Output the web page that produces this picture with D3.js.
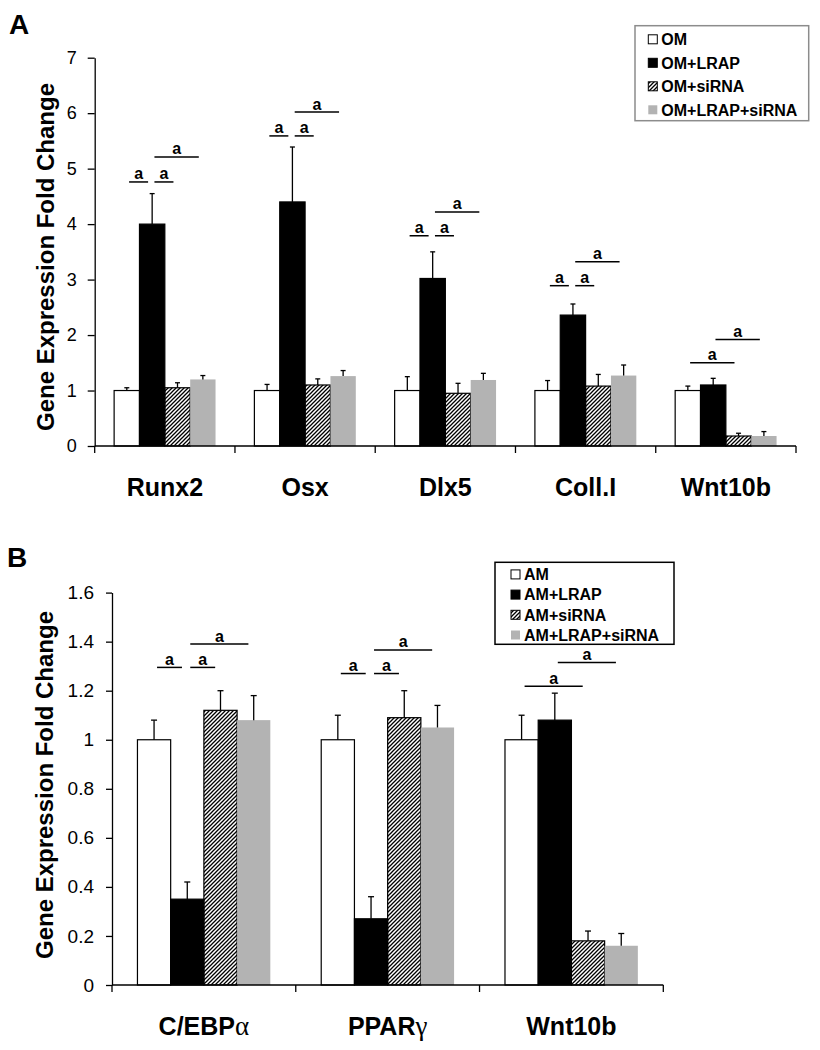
<!DOCTYPE html>
<html><head><meta charset="utf-8">
<script src="https://cdn.jsdelivr.net/npm/d3@7"></script>
<style>
html,body{margin:0;padding:0;background:#fff;}
text{font-family:"Liberation Sans",Arial,sans-serif;}
</style></head>
<body><svg id="c" width="820" height="1050"></svg>
<script>
// ---------- Panel A data ----------
const categoriesA = ["Runx2","Osx","Dlx5","Coll.I","Wnt10b"];
const seriesA = ["OM","OM+LRAP","OM+siRNA","OM+LRAP+siRNA"];
const omA        = [1.00,1.00,1.00,1.00,1.00];
const omLrapA    = [4.00,4.40,3.02,2.36,1.10];
const omSiA      = [1.05,1.10,0.95,1.08,0.18];
const omLrapSiA  = [1.20,1.26,1.19,1.27,0.18];
const omErrA       = [0.05,0.11,0.25,0.18,0.08];
const omLrapErrA   = [0.55,0.99,0.48,0.20,0.12];
const omSiErrA     = [0.09,0.11,0.18,0.21,0.05];
const omLrapSiErrA = [0.07,0.10,0.12,0.19,0.08];
const yTicksA = [0,1,2,3,4,5,6,7];
// [category, fromBar, toBar, level, label]
const bracketsA = [
  [0,0,1,4.76,"a"],[0,1,2,4.76,"a"],[0,1,3,5.21,"a"],
  [1,0,1,5.59,"a"],[1,1,2,5.59,"a"],[1,1,3,6.02,"a"],
  [2,0,1,3.79,"a"],[2,1,2,3.79,"a"],[2,1,3,4.22,"a"],
  [3,0,1,2.89,"a"],[3,1,2,2.89,"a"],[3,1,3,3.32,"a"],
  [4,0,2,1.50,"a"],[4,1,3,1.92,"a"]
];

// ---------- Panel B data ----------
const categoriesB = ["C/EBPα","PPARγ","Wnt10b"];
const seriesB = ["AM","AM+LRAP","AM+siRNA","AM+LRAP+siRNA"];
const amB        = [1.00,1.00,1.00];
const amLrapB    = [0.35,0.27,1.08];
const amSiB      = [1.12,1.09,0.18];
const amLrapSiB  = [1.08,1.05,0.16];
const amErrB       = [0.08,0.10,0.10];
const amLrapErrB   = [0.07,0.09,0.11];
const amSiErrB     = [0.08,0.11,0.04];
const amLrapSiErrB = [0.10,0.09,0.05];
const yTicksB = [0,0.2,0.4,0.6,0.8,1,1.2,1.4,1.6];
const bracketsB = [
  [0,0,1,1.295,"a"],[0,1,2,1.295,"a"],[0,1,3,1.39,"a"],
  [1,0,1,1.27,"a"],[1,1,2,1.27,"a"],[1,1,3,1.366,"a"],
  [2,0,2,1.218,"a"],[2,1,3,1.315,"a"]
];

const svg = d3.select("#c");
const defs = svg.append("defs");
defs.append("pattern").attr("id","hatch").attr("patternUnits","userSpaceOnUse")
  .attr("width",4).attr("height",4)
  .append("path").attr("d","M-1,1 l2,-2 M0,4 l4,-4 M3,5 l2,-2")
  .attr("stroke","#000").attr("stroke-width",1.3);

const fills = ["#fff","#000","url(#hatch)","#b3b3b3"];
const strokes = ["#000","#000","#000","none"];

function panel(o){
  const g = svg.append("g");
  const x = d3.scaleBand().domain(o.cats).range([o.x0,o.x1]);
  const bw = x.bandwidth();
  const gw = bw*0.723, pad=(bw-gw)/2;
  const xs = d3.scaleBand().domain(d3.range(4)).range([pad,pad+gw]);
  const y = d3.scaleLinear().domain([0,o.ymax]).range([o.y0,o.y1]);
  const barW = xs.bandwidth();
  const cx = (ci,si)=> x(o.cats[ci]) + xs(si) + barW/2;

  // y axis
  const ya = g.append("g").attr("transform",`translate(${o.x0},0)`)
    .call(d3.axisLeft(y).tickValues(o.ticks).tickFormat(d3.format("~g"))
      .tickSize(o.tickLen).tickSizeOuter(0).tickPadding(o.tickPad));
  ya.select(".domain").attr("stroke","#000").attr("stroke-width",1.3);
  ya.selectAll(".tick line").attr("stroke","#000").attr("stroke-width",1.3);
  ya.selectAll(".tick text").attr("font-family","Liberation Sans, Arial, sans-serif")
    .attr("font-size",o.tickFont).attr("fill","#000");

  // bars
  o.vals.forEach((arr,si)=>{
    g.append("g").selectAll("rect").data(arr).join("rect")
      .attr("x",(d,i)=>x(o.cats[i])+xs(si))
      .attr("y",d=>y(d)).attr("width",barW).attr("height",d=>y(0)-y(d))
      .attr("fill",fills[si]).attr("stroke",strokes[si]).attr("stroke-width",1.2);
  });
  // error bars
  o.vals.forEach((arr,si)=>{
    const eg = g.append("g").attr("stroke","#000").attr("stroke-width",1.3);
    arr.forEach((v,i)=>{
      const e = o.errs[si][i];
      const c = cx(i,si);
      eg.append("line").attr("x1",c).attr("x2",c).attr("y1",y(v)).attr("y2",y(v+e));
      eg.append("line").attr("x1",c-o.cap/2).attr("x2",c+o.cap/2).attr("y1",y(v+e)).attr("y2",y(v+e));
    });
  });

  // x axis
  g.append("line").attr("x1",o.x0).attr("x2",o.x1).attr("y1",y(0)).attr("y2",y(0))
    .attr("stroke","#000").attr("stroke-width",1.3);
  const bounds = o.cats.map(c=>x(c)).concat([o.x1]);
  g.selectAll(".xt").data(bounds).join("line")
    .attr("x1",d=>d).attr("x2",d=>d).attr("y1",y(0)).attr("y2",y(0)+7)
    .attr("stroke","#000").attr("stroke-width",1.3);
  // category labels
  o.cats.forEach(c=>{
    const t = g.append("text").attr("x",x(c)+bw/2).attr("y",y(0)+50)
      .attr("text-anchor","middle").attr("font-size",25).attr("font-weight","bold");
    const m = c.match(/^(.*?)([α-ω])$/);
    if(m){
      t.append("tspan").text(m[1]);
      t.append("tspan").text(m[2]).attr("font-family","Liberation Serif, Times New Roman, serif")
        .attr("font-weight","normal").attr("font-size",27);
    } else t.text(c);
  });

  // brackets
  o.brackets.forEach(b=>{
    const [ci,f,t,lv,lab]=b;
    const xa = cx(ci,f)+barW*0.09, xb = cx(ci,t)-barW*0.16;
    g.append("line").attr("x1",xa).attr("x2",xb).attr("y1",y(lv)).attr("y2",y(lv))
      .attr("stroke","#000").attr("stroke-width",1.5);
    g.append("text").attr("x",(xa+xb)/2).attr("y",y(lv)-2.5).attr("text-anchor","middle")
      .attr("font-size",16).attr("font-weight","bold").text(lab);
  });

  // y title
  g.append("text").attr("transform",`translate(${o.titleX},${o.titleY}) rotate(-90)`)
    .attr("text-anchor","middle").attr("font-size",24).attr("font-weight","bold")
    .text("Gene Expression Fold Change");
  // panel letter
  g.append("text").attr("x",o.letterX).attr("y",o.letterY).attr("font-size",28)
    .attr("font-weight","bold").text(o.letter);

  // legend
  const L = o.legend;
  g.append("rect").attr("x",L.x).attr("y",L.y).attr("width",L.w).attr("height",L.h)
    .attr("fill","#fff").attr("stroke",L.stroke).attr("stroke-width",1.5);
  o.series.forEach((s,i)=>{
    const ry = L.y + L.first + i*L.step;
    g.append("rect").attr("x",L.sx).attr("y",ry-4.5).attr("width",9).attr("height",9)
      .attr("fill",fills[i]).attr("stroke",i===3?"none":"#000").attr("stroke-width",1);
    g.append("text").attr("x",L.sx+13).attr("y",ry).attr("dy","0.36em")
      .attr("font-size",16).attr("font-weight","bold").text(s);
  });
}

panel({
  cats:categoriesA, series:seriesA,
  vals:[omA,omLrapA,omSiA,omLrapSiA],
  errs:[omErrA,omLrapErrA,omSiErrA,omLrapSiErrA],
  x0:94.7, x1:796, y0:446, y1:57.7, ymax:7, ticks:yTicksA,
  tickLen:7, tickPad:11, tickFont:18, cap:5,
  brackets:bracketsA, titleX:53.5, titleY:257, letter:"A", letterX:9, letterY:34,
  legend:{x:635,y:25.7,w:173.7,h:95,stroke:"#8c8c8c",sx:648.3,first:13.6,step:23.5}
});
panel({
  cats:categoriesB, series:seriesB,
  vals:[amB,amLrapB,amSiB,amLrapSiB],
  errs:[amErrB,amLrapErrB,amSiErrB,amLrapSiErrB],
  x0:112, x1:663.3, y0:985, y1:592.6, ymax:1.6, ticks:yTicksB,
  tickLen:6, tickPad:12, tickFont:19, cap:6,
  brackets:bracketsB, titleX:53, titleY:785, letter:"B", letterX:7, letterY:567,
  legend:{x:495,y:562.3,w:179,h:82,stroke:"#000",sx:511,first:12.1,step:20.2}
});
</script></body></html>
